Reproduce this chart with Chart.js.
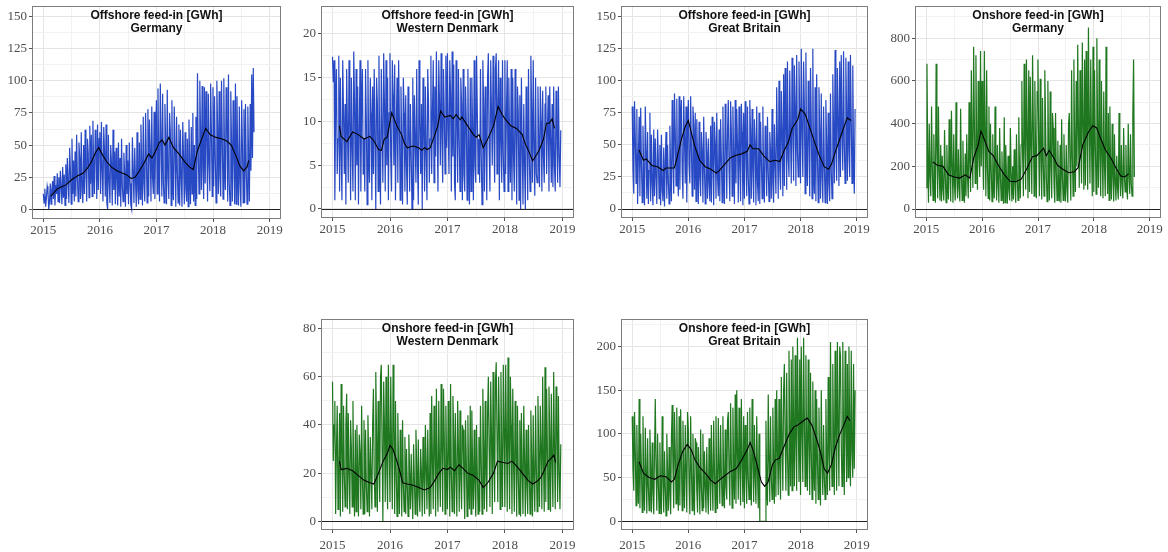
<!DOCTYPE html>
<html>
<head>
<meta charset="utf-8">
<script src="https://cdn.jsdelivr.net/npm/chart.js@4.4.1/dist/chart.umd.min.js"></script>
<style>
  html, body { margin: 0; padding: 0; background: #fff; }
  body { width: 1168px; height: 552px; position: relative; overflow: hidden; }
  canvas { position: absolute; }
</style>
</head>
<body>
<canvas id="p1" width="287" height="236" style="left:0px;top:5px"></canvas>
<canvas id="p2" width="291" height="235" style="left:289px;top:5px"></canvas>
<canvas id="p3" width="285" height="235" style="left:589px;top:5px"></canvas>
<canvas id="p4" width="284" height="235" style="left:883px;top:5px"></canvas>
<canvas id="p5" width="291" height="238" style="left:289px;top:318px"></canvas>
<canvas id="p6" width="285" height="238" style="left:589px;top:318px"></canvas>
<script>
// x axis (years)
const yearTicks = [2015, 2016, 2017, 2018, 2019];
const yearMinor = [2015.5, 2016.5, 2017.5, 2018.5];
const stepDays = 5; // one value every 5 days from 2015-01-01

// offshore Germany
const deOffshore = [
  12,5,16,2,9,18,14,0,6,20, 4,15,22,8,26,3,19,12,28,6, 25,5,30,18,4,33,9,27,3,35, 8,40,22,5,48,30,4,55,12,38,6,
  45,10,58,25,6,52,40,8,60,14,5, 50,12,62,30,6,55,44,9,65,20, 58,10,69,35,12,62,48,8,66,15,55,
  60,12,68,30,6,64,45,10,66,5, 0,58,22,5,50,36,3,62,15,45, 4,48,25,3,52,10,40,2,55,18, 6,44,28,2,50,12,38,4,52,20,3,
  0,56,30,5,48,22,2,60,15,4,52, 8,66,35,3,72,20,6,75,40,5, 78,10,70,45,6,80,25,12,76,8,55,
  85,12,94,40,6,98,55,10,90,20, 5,82,50,4,93,25,8,75,60,3, 85,20,7,80,45,2,72,30,5,66, 3,62,25,2,68,40,4,60,15,6,55,
  2,70,35,4,64,12,75,6,50,3,72, 8,106,45,12,100,60,15,96,30,8, 95,20,92,55,6,90,35,14,98,60,10,
  95,18,88,40,5,100,62,12,92,25, 10,100,55,8,102,35,15,95,70,6, 105,20,3,92,50,6,85,40,4,98, 4,88,35,3,80,20,2,85,50,5,78,
  5,82,30,4,80,40,6,82,30,105, 40,110,60
];
const deOffTrendX = [2015.13,2015.25,2015.4,2015.5,2015.6,2015.7,2015.78,2015.85,2015.92,2015.98,2016.05,2016.12,2016.2,2016.3,2016.4,2016.47,2016.55,2016.62,2016.7,2016.78,2016.86,2016.92,2016.98,2017.05,2017.1,2017.15,2017.22,2017.3,2017.4,2017.5,2017.58,2017.65,2017.72,2017.8,2017.87,2017.95,2018.05,2018.15,2018.25,2018.32,2018.4,2018.47,2018.54,2018.6,2018.63];
const deOffTrendY = [10,16,19,23,26,28,32,37,44,48,42,37,33,30,28,27,24,25,30,36,43,40,45,52,54,50,56,48,43,37,33,31,45,55,63,58,56,55,53,50,42,34,30,33,38];

// offshore Western Denmark
const dkOffshore = [
  17.4,14.5,17,1,12,16,4,8,17.5,2, 15,6,1,17,11,4,12,0.5,16,9, 3,17,10,1,15,7,2,18,12,1, 16,5,14,0.5,9,17,2,12,16,4,8,
  2,16,10,0.5,17,6,3,15,11,1,14, 4,16,8,0,15,12,2,17.5,6,0.5, 16,9,3,17.8,12,2,17,5,15,1,11,
  17.8,6,2,17,13,5,16.5,1,9,15, 3,17,10,1,14,7,0.5,15,11,2, 13,5,0.5,14,9,2,12,6,0,15, 1,13,8,3,16,5,0.5,17,10,4,12,
  0,15,9,2,14,6,1,16,12,3,8, 17.5,4,11,17,3,14,6,18,9,2, 17,12,5,17.8,8,3,16,11,4,17.5,7,
  17.8,9,4,17,13,2,18,6,16.5,3, 1,17,10,3,16,8,2,15,12,1, 16,4,2,14,10,1,16,6,0.5,15, 2,15,9,1,17,5,3,17.5,11,4,8,
  3,16,6,0.5,17,12,2,14,8,1,15, 17.8,7,2,17,11,5,17.5,9,3,16, 17.8,4,12,17,1,15,8,3,17,6,2,
  17,4,11,17,2,15,8,3,16,1, 15,6,2,16,9,0.5,14,11,1,13, 0,15,7,0.5,12,5,0,14,9,1, 16,6,2,17.5,11,3,17,7,1.5,15,4,
  3,14,8,2.5,14,10,2,13.5,6,3,12, 14,4,9,13,2,14,8,3,12,2.5, 14,5,2,13.5,9,3,14,6,2.5,9
];
const dkOffTrendX = [2015.12,2015.15,2015.25,2015.35,2015.45,2015.55,2015.65,2015.72,2015.8,2015.85,2015.9,2015.95,2016.03,2016.12,2016.2,2016.25,2016.3,2016.4,2016.5,2016.55,2016.6,2016.65,2016.7,2016.78,2016.83,2016.88,2016.95,2017.05,2017.1,2017.15,2017.22,2017.25,2017.35,2017.45,2017.5,2017.55,2017.62,2017.7,2017.8,2017.88,2017.95,2018.0,2018.1,2018.2,2018.3,2018.35,2018.42,2018.48,2018.55,2018.6,2018.67,2018.72,2018.77,2018.82,2018.86];
const dkOffTrendY = [9.5,8.3,7.7,8.8,8.5,8.0,8.3,7.8,6.8,6.7,8.0,8.2,11.0,9.5,8.5,7.5,7.0,7.2,7.0,6.7,7.0,6.8,7.0,8.5,9.5,11.2,10.5,10.7,10.3,10.8,10.2,10.5,9.5,8.5,8.2,8.5,7.0,8.0,9.5,11.7,10.8,10.3,9.5,9.2,8.5,7.5,6.5,5.5,6.2,6.8,8.0,9.8,9.8,10.3,9.2];

// offshore Great Britain
const gbOffshore = [
  80,30,12,84,55,20,78,4,40,72, 10,79,35,5,65,25,3,80,45,8, 60,4,30,75,6,58,20,3,62,10, 55,25,4,62,38,8,50,3,58,15,6,
  48,2,35,60,8,50,22,4,65,30,6, 85,40,12,90,60,18,86,30,10,88, 15,70,85,30,8,88,55,20,80,5,60,
  85,35,20,88,50,10,80,65,15,75, 6,70,40,4,68,25,10,60,45,5, 72,30,4,60,45,8,55,20,6,65, 5,72,35,3,68,50,8,75,25,10,62,
  6,70,40,5,80,28,4,82,55,8,60, 85,30,6,84,60,10,80,40,4,85, 20,78,50,5,80,35,6,82,60,3,75,
  8,84,45,10,80,25,4,85,60,8, 78,30,5,70,50,3,80,20,6,75, 4,68,40,8,80,25,5,65,45,10, 72,30,6,60,45,8,78,20,5,66,35,
  12,95,50,8,100,30,15,92,60,10,105, 18,110,65,15,115,40,25,108,55,20, 118,60,22,112,80,18,120,45,25,115,70,
  20,125,60,25,115,80,12,122,40,18, 100,55,10,110,70,8,125,30,12,95, 6,105,40,5,95,60,8,90,25,5, 80,35,5,85,50,4,75,20,6,90,30,
  8,105,60,20,124,45,22,110,70,18,115, 25,120,60,30,123,50,20,118,75,22, 115,45,25,120,70,20,112,40,12,78
];
const gbOffTrendX = [2015.12,2015.2,2015.25,2015.35,2015.45,2015.55,2015.6,2015.75,2015.8,2015.88,2015.95,2016.0,2016.05,2016.12,2016.2,2016.3,2016.4,2016.5,2016.55,2016.65,2016.75,2016.85,2016.95,2017.05,2017.1,2017.15,2017.25,2017.35,2017.45,2017.55,2017.63,2017.7,2017.78,2017.85,2017.95,2018.0,2018.08,2018.15,2018.25,2018.33,2018.42,2018.5,2018.55,2018.62,2018.7,2018.78,2018.83,2018.9];
const gbOffTrendY = [46,38,39,34,33,30,32,32,40,55,65,69,60,48,38,33,31,28,30,35,40,42,43,45,50,47,47,41,37,38,37,45,52,63,70,78,74,65,52,42,33,31,35,45,55,65,71,69];

// onshore Germany
const deOnshore = [
  100,680,250,30,400,150,60,480,200,40, 350,120,30,680,300,50,480,180,40,300, 35,250,90,40,370,150,30,300,120,45, 420,180,35,460,200,30,350,110,40,500,150,
  50,280,100,35,470,160,40,320,90,30,260, 60,350,150,50,500,220,80,650,300,100, 760,400,120,720,300,90,600,250,150,740,200,
  600,300,90,740,350,60,650,200,50,480, 40,400,180,35,350,120,50,480,200,40, 300,120,30,380,150,40,270,100,25,430, 30,300,140,25,250,90,40,380,160,35,200,
  45,280,120,30,350,150,40,430,180,50,300, 600,250,60,680,300,90,700,350,50,650, 80,620,300,70,720,400,60,600,250,50,550,
  700,300,60,610,250,45,520,220,60,650, 400,150,35,600,250,40,550,200,50,450, 380,120,30,450,180,40,320,100,35,300, 30,420,150,40,350,120,35,300,100,30,400,
  450,180,40,650,250,60,700,300,80,600,200, 770,350,100,650,300,120,780,400,90,700, 110,740,350,90,850,400,120,700,300,60,760,
  80,650,300,70,800,350,100,700,250,60, 600,250,50,550,200,60,760,300,70,450, 40,480,180,45,400,150,35,350,120,40, 250,100,45,450,160,60,300,120,50,380,150,
  80,300,100,45,400,150,70,350,120,60, 450,700,150
];
const deOnTrendX = [2015.12,2015.2,2015.3,2015.4,2015.5,2015.6,2015.7,2015.78,2015.85,2015.93,2015.98,2016.05,2016.12,2016.2,2016.3,2016.4,2016.5,2016.6,2016.7,2016.8,2016.9,2016.98,2017.05,2017.1,2017.15,2017.2,2017.28,2017.35,2017.45,2017.55,2017.65,2017.72,2017.8,2017.9,2017.98,2018.05,2018.12,2018.2,2018.3,2018.4,2018.48,2018.55,2018.62];
const deOnTrendY = [220,205,200,160,150,145,160,145,240,300,365,320,270,250,200,160,130,128,140,190,245,250,270,285,250,275,240,205,185,170,175,195,300,360,390,380,330,280,240,190,155,150,165];

// onshore Western Denmark
const dkOnshore = [
  58,25,40,50,3,30,48,5,20,45, 2,57,30,4,48,20,6,40,53,5, 45,20,3,42,30,6,50,15,2,38, 4,40,22,2,36,28,5,48,18,3,42,
  3,38,15,4,44,25,2,35,20,5,40, 55,20,6,62,35,4,50,25,8,60, 65,30,0,58,40,8,60,22,5,65,35,
  8,60,30,5,65,40,3,50,20,2, 45,20,3,38,25,2,42,15,4,35, 3,30,15,2,36,20,5,28,12,1, 32,18,3,38,22,2,34,12,4,30,20,
  2,35,18,3,40,22,5,38,15,2,45, 3,52,25,5,48,30,2,55,20,4, 50,22,6,57,30,4,55,35,3,48,25,
  5,50,28,2,57,20,4,52,35,3, 45,20,2,50,30,4,46,18,5,40, 38,15,1,42,25,2,44,18,5,48, 3,46,22,5,38,15,2,40,20,3,35,
  4,48,25,3,55,30,5,50,20,4,45, 60,30,6,58,35,3,62,25,8,58, 66,35,8,60,40,5,62,28,6,65,38,
  6,65,35,4,68,30,5,60,40,3, 55,25,4,50,30,2,48,20,3,42, 2,45,20,3,48,25,2,38,15,3, 40,20,3,46,25,2,44,18,4,48,22,
  4,52,28,6,48,30,5,60,25,4,64, 8,55,30,5,56,35,4,53,25,6, 62,30,5,56,40,8,52,20,5,32
];
const dkOnTrendX = [2015.12,2015.15,2015.25,2015.35,2015.45,2015.55,2015.65,2015.72,2015.8,2015.88,2015.95,2016.0,2016.05,2016.12,2016.18,2016.22,2016.3,2016.4,2016.5,2016.6,2016.7,2016.78,2016.85,2016.92,2017.0,2017.05,2017.12,2017.2,2017.27,2017.35,2017.45,2017.55,2017.62,2017.7,2017.8,2017.87,2017.95,2018.05,2018.12,2018.2,2018.3,2018.4,2018.48,2018.55,2018.62,2018.68,2018.75,2018.8,2018.85,2018.88];
const dkOnTrendY = [25,21.5,22,21,19,17,16,15.5,20,25,28,31.5,30,25,20,16,15.5,15,14,13,14,17,20,22,21.5,22.5,21,23.5,22,20,19,17,14,16,20,25,24.5,24,25,23,20,17,15.5,16.5,18,21,25,26,27.5,24.5];

// onshore Great Britain
const gbOnshore = [
  120,60,35,125,80,18,110,50,20,140, 15,100,60,10,120,40,12,107,55,9, 95,40,12,105,60,10,90,35,8,75, 140,60,12,100,45,9,90,30,8,120,50,
  10,80,40,6,100,55,12,85,30,8,95, 133,60,15,125,80,20,130,45,12,120, 18,128,70,12,115,50,15,110,60,10,125,
  105,45,8,120,60,12,100,40,7,95, 90,35,10,85,50,8,105,40,12,100, 15,80,40,10,85,35,8,95,50,12, 110,50,12,115,60,10,120,45,14,118,60,
  20,110,55,18,120,50,15,105,40,25,115, 125,55,18,135,70,15,130,60,25,145, 20,150,80,25,130,60,18,140,70,22,120,
  15,110,60,20,125,50,25,130,45,18, 140,70,22,110,50,20,120,55,15,100, 0,0,0,0,0,0,0,0,115,40, 18,145,70,22,120,50,25,130,60,20,140,
  28,150,80,30,140,60,25,165,90,35,150, 180,90,35,170,80,30,195,100,40,185, 35,200,110,40,190,90,35,210,120,45,185,
  30,200,100,45,210,120,40,190,80,35, 185,90,30,170,80,25,160,70,35,150, 20,140,70,25,130,60,18,150,70,30, 110,50,25,140,70,30,165,80,35,205,90,
  40,180,90,30,195,100,35,205,110,40,200, 190,90,40,205,100,30,195,110,45,180, 50,200,100,40,195,80,50,180,60,150
];
const gbOnTrendX = [2015.12,2015.2,2015.3,2015.4,2015.5,2015.6,2015.7,2015.75,2015.82,2015.9,2015.98,2016.05,2016.12,2016.2,2016.3,2016.4,2016.48,2016.55,2016.65,2016.75,2016.85,2016.95,2017.05,2017.1,2017.15,2017.22,2017.3,2017.36,2017.42,2017.5,2017.55,2017.62,2017.7,2017.8,2017.88,2017.95,2018.05,2018.12,2018.2,2018.28,2018.35,2018.42,2018.48,2018.55,2018.62,2018.7,2018.78,2018.83,2018.88];
const gbOnTrendY = [68,55,50,48,52,51,45,48,65,80,88,82,70,62,55,47,43,47,52,57,60,70,82,90,82,65,45,40,45,65,70,72,85,100,108,110,115,118,110,95,80,60,55,65,85,100,112,120,115];

const BLUE = 'rgba(10,48,188,0.88)';
const GREEN = 'rgba(0,100,0,0.88)';

const panels = [
  { id: 'p1', title: ['Offshore feed-in [GWh]', 'Germany'], color: BLUE, values: deOffshore,
    trendX: deOffTrendX, trendY: deOffTrendY, yMin: -7.55, yMax: 158.3, xPad: 1,
    yMajor: [0, 25, 50, 75, 100, 125, 150], yMinor: [12.5, 37.5, 62.5, 87.5, 112.5, 137.5] },
  { id: 'p2', title: ['Offshore feed-in [GWh]', 'Western Denmark'], color: BLUE, values: dkOffshore,
    trendX: dkOffTrendX, trendY: dkOffTrendY, yMin: -1.03, yMax: 23.2, xPad: 1,
    yMajor: [0, 5, 10, 15, 20], yMinor: [2.5, 7.5, 12.5, 17.5, 22.5] },
  { id: 'p3', title: ['Offshore feed-in [GWh]', 'Great Britain'], color: BLUE, values: gbOffshore,
    trendX: gbOffTrendX, trendY: gbOffTrendY, yMin: -7.0, yMax: 158.3, xPad: 1,
    yMajor: [0, 25, 50, 75, 100, 125, 150], yMinor: [12.5, 37.5, 62.5, 87.5, 112.5, 137.5] },
  { id: 'p4', title: ['Onshore feed-in [GWh]', 'Germany'], color: GREEN, values: deOnshore,
    trendX: deOnTrendX, trendY: deOnTrendY, yMin: -42, yMax: 951, xPad: 1,
    yMajor: [0, 200, 400, 600, 800], yMinor: [100, 300, 500, 700, 900] },
  { id: 'p5', title: ['Onshore feed-in [GWh]', 'Western Denmark'], color: GREEN, values: dkOnshore,
    trendX: dkOnTrendX, trendY: dkOnTrendY, yMin: -3.6, yMax: 84, xPad: 5,
    yMajor: [0, 20, 40, 60, 80], yMinor: [10, 30, 50, 70] },
  { id: 'p6', title: ['Onshore feed-in [GWh]', 'Great Britain'], color: GREEN, values: gbOnshore,
    trendX: gbOnTrendX, trendY: gbOnTrendY, yMin: -10, yMax: 231.4, xPad: 5,
    yMajor: [0, 50, 100, 150, 200], yMinor: [25, 75, 125, 175, 225] }
];

// title inside the panel, zero line and panel border
const panelDecor = {
  id: 'panelDecor',
  afterDatasetsDraw(chart, args, opts) {
    const { ctx, chartArea: a, scales } = chart;
    const y0 = Math.round(scales.y.getPixelForValue(0)) + 0.5;
    ctx.save();
    ctx.strokeStyle = '#222';
    ctx.lineWidth = 1.2;
    ctx.beginPath();
    ctx.moveTo(a.left, y0);
    ctx.lineTo(a.right, y0);
    ctx.stroke();

    ctx.strokeStyle = '#7d7d7d';
    ctx.lineWidth = 1;
    ctx.strokeRect(a.left + 0.5, a.top + 0.5, a.width - 1, a.height - 1);

    ctx.fillStyle = '#111';
    ctx.font = 'bold 12px "Liberation Sans", Arial, sans-serif';
    ctx.textAlign = 'center';
    ctx.textBaseline = 'middle';
    const cx = (a.left + a.right) / 2;
    opts.lines.forEach((line, i) => {
      ctx.fillText(line, cx, a.top + 10 + i * 13);
    });
    ctx.restore();
  }
};

const tickFont = { family: '"Liberation Serif", "Times New Roman", serif', size: 13 };

panels.forEach((p) => {
  const series = p.values.map((v, i) => ({ x: 2015 + (i * stepDays) / 365.25, y: v }));
  const trend = p.trendX.map((x, i) => ({ x: x, y: p.trendY[i] }));
  const yAll = p.yMinor.concat(p.yMajor).sort((a, b) => a - b);
  const xAll = yearTicks.concat(yearMinor).sort((a, b) => a - b);

  new Chart(document.getElementById(p.id), {
    type: 'line',
    data: {
      datasets: [
        { data: trend, borderColor: '#000', borderWidth: 1.1, pointRadius: 0, tension: 0 },
        { data: series, borderColor: p.color, borderWidth: 1.2, pointRadius: 0, tension: 0 }
      ]
    },
    options: {
      responsive: false,
      animation: false,
      devicePixelRatio: 1,
      events: [],
      layout: { padding: { top: 1, right: 6, left: 0, bottom: 0 } },
      plugins: {
        legend: { display: false },
        tooltip: { enabled: false },
        panelDecor: { lines: p.title }
      },
      scales: {
        x: {
          type: 'linear',
          min: 2014.8,
          max: 2019.2,
          afterBuildTicks: (s) => { s.ticks = xAll.map((v) => ({ value: v })); },
          afterFit: (s) => {
            s.height = 21 + p.xPad;
            s.paddingLeft = 0;
            s.paddingRight = 0;
          },
          border: { display: false },
          grid: {
            color: (c) => (yearTicks.includes(c.tick.value) ? '#e4e4e4' : '#f2f2f2'),
            tickColor: (c) => (yearTicks.includes(c.tick.value) ? '#555' : 'rgba(0,0,0,0)'),
            tickLength: 3,
            lineWidth: 1
          },
          ticks: {
            autoSkip: false,
            maxRotation: 0,
            padding: p.xPad,
            color: '#4d4d4d',
            font: tickFont,
            callback: (v) => (yearTicks.includes(v) ? String(v) : '')
          }
        },
        y: {
          min: p.yMin,
          max: p.yMax,
          afterBuildTicks: (s) => { s.ticks = yAll.map((v) => ({ value: v })); },
          afterFit: (s) => {
            s.width = 32;
            s.paddingTop = 0;
            s.paddingBottom = 0;
          },
          border: { display: false },
          grid: {
            color: (c) => (p.yMajor.includes(c.tick.value) ? '#e4e4e4' : '#f2f2f2'),
            tickColor: (c) => (p.yMajor.includes(c.tick.value) ? '#555' : 'rgba(0,0,0,0)'),
            tickLength: 3,
            lineWidth: 1
          },
          ticks: {
            autoSkip: false,
            padding: 2,
            color: '#4d4d4d',
            font: tickFont,
            callback: (v) => (p.yMajor.includes(v) ? String(v) : '')
          }
        }
      }
    },
    plugins: [panelDecor]
  });
});
</script>
</body>
</html>
